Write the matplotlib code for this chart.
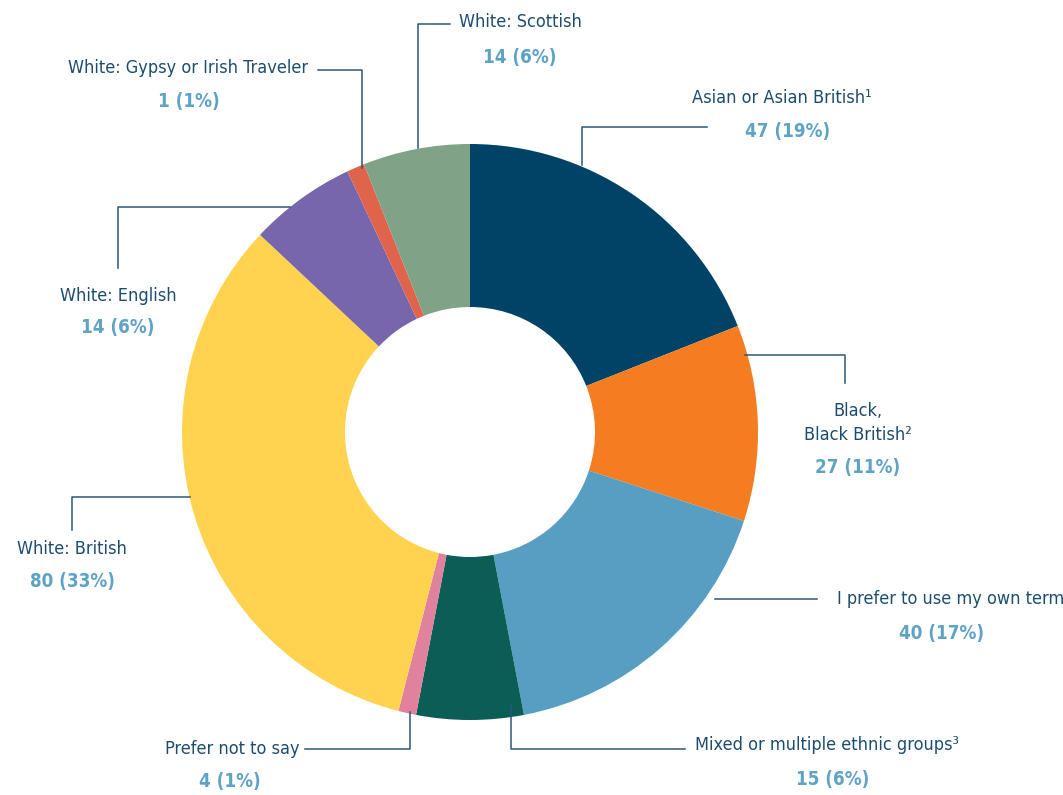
import matplotlib.pyplot as plt

# survey counts, clockwise from the top
groups = ['Asian or Asian British¹', 'Black,\nBlack British²', 'I prefer to use my own term',
          'Mixed or multiple ethnic groups³', 'Prefer not to say', 'White: British',
          'White: English', 'White: Gypsy or Irish Traveler', 'White: Scottish']
counts = [47, 27, 40, 15, 4, 80, 14, 1, 14]
pcts = [19, 11, 17, 6, 1, 33, 6, 1, 6]
colors = ['#004366', '#f37d20', '#579ec2', '#0b5e55', '#e0819d',
          '#ffd34f', '#7766ab', '#e0634b', '#80a388']

name_col = '#1d4d6e'
val_col = '#5ea2c6'
line_col = '#2b5877'
fam = ['DejaVu Sans']

fig = plt.figure(figsize=(10.63, 7.95), dpi=100)
ax = fig.add_axes([0, 0, 1, 1])

# ring sized by the rounded percentages
cx, cy, r_out, r_in = 470, 432, 288, 125
ax.pie(pcts, colors=colors, startangle=-90, counterclock=True,
       center=(cx, cy), radius=r_out,
       wedgeprops=dict(width=r_out - r_in, linewidth=0))

ax.set_xlim(0, 1063)
ax.set_ylim(795, 0)
ax.set_aspect('equal')
ax.axis('off')

# label placement: (name x, name y, name ha, value x, value y, leader line points)
layout = [
    (782, 98, 'center', 788, 131, [(582, 165), (582, 127), (707, 127)]),
    (858, 423, 'center', 858, 468, [(745, 355), (845, 355), (845, 383)]),
    (837, 599, 'left', 942, 633, [(715, 599), (817, 599)]),
    (695, 745, 'left', 833, 779, [(511, 705), (511, 749), (685, 749)]),
    (300, 749, 'right', 230, 782, [(305, 749), (410, 749), (410, 712)]),
    (72, 549, 'center', 72, 582, [(72, 530), (72, 497), (190, 497)]),
    (118, 296, 'center', 118, 328, [(118, 268), (118, 207), (290, 207)]),
    (308, 68, 'right', 189, 101, [(318, 70), (362, 70), (362, 168)]),
    (459, 22, 'left', 520, 57, [(418, 148), (418, 24), (450, 24)]),
]

for g, n, p, (nx, ny, ha, vx, vy, pts) in zip(groups, counts, pcts, layout):
    xs, ys = zip(*pts)
    ax.plot(xs, ys, color=line_col, lw=1.1)
    ax.text(nx, ny, g, ha=ha, va='center', fontsize=13, color=name_col,
            family=fam, fontstretch='condensed', linespacing=1.45,
            multialignment='center')
    ax.text(vx, vy, f'{n} ({p}%)', ha='center', va='center', fontsize=13.5,
            color=val_col, family=fam, fontstretch='condensed', fontweight='bold')

fig.savefig('out.png', dpi=100)
